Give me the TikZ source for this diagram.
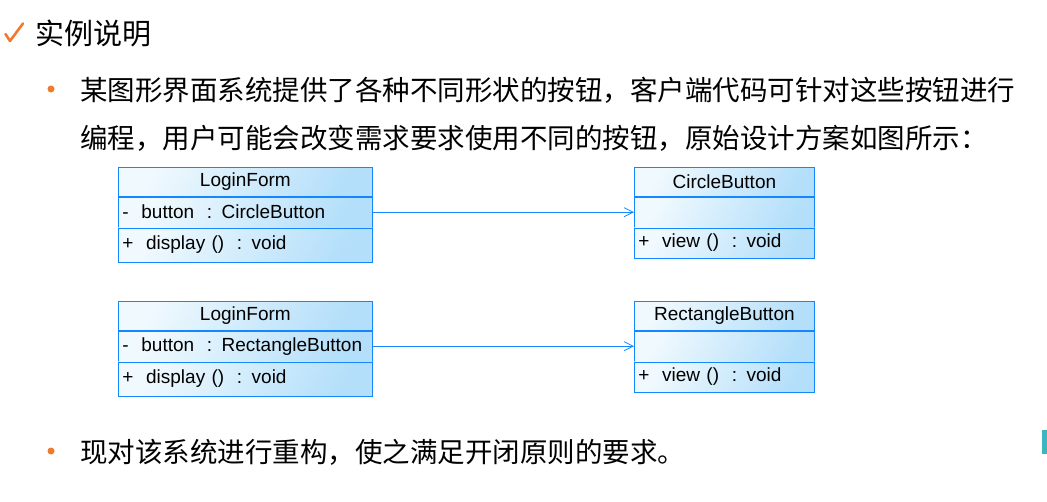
\documentclass[tikz,border=0pt]{standalone}
\usepackage{fontspec}
\setmainfont{Liberation Sans}
\newfontfamily\cjk{Noto Sans CJK SC}
\usetikzlibrary{positioning}
\usetikzlibrary{arrows.meta}
\definecolor{umlline}{RGB}{20,135,255}
\definecolor{umllight}{RGB}{240,249,254}
\definecolor{umldark}{RGB}{180,223,250}
\definecolor{dotorange}{RGB}{240,122,45}
\definecolor{barteal}{RGB}{62,182,192}

\tikzset{
  umlbox/.style={draw=umlline, line width=0.8pt, left color=umllight, right color=umldark,
    shading angle=60, inner xsep=4pt, inner ysep=0pt, text width=#1,
    font=\fontsize{19}{22}\selectfont},
  umlhead/.style={umlbox=#1, anchor=north west, align=center, minimum height=29pt},
  umlrow/.style={umlbox=#1, align=left, minimum height=30pt},
  assoc/.style={draw=umlline, line width=0.8pt, -{Straight Barb[length=9pt,width=9pt]}},
  cjktext/.style={anchor=base west, inner sep=0pt, font=\cjk\fontsize{27.5}{48}\selectfont},
  bulletdot/.style={fill=dotorange, draw=none}
}

\begin{document}
\begin{tikzpicture}[x=1pt,y=-1pt]
  \useasboundingbox (0,0) rectangle (1047,502);

  \draw[dotorange, line width=2.6pt, line cap=round, line join=round] (5.5,34) -- (10,41) -- (23,23.5);
  \node[cjktext, font=\cjk\fontsize{29}{34}\selectfont] (title) at (35,45) {实例说明};

  \fill[bulletdot] (51,89) circle (3.5);
  \node[cjktext] (introa) at (80,100.5) {某图形界面系统提供了各种不同形状的按钮，客户端代码可针对这些按钮进行};
  \node[cjktext] (introb) at (80,148.5) {编程，用户可能会改变需求要求使用不同的按钮，原始设计方案如图所示：};

  % circle button version
  \node[umlhead=246pt] (forma) at (118,167) {LoginForm};
  \node[umlrow=246pt, below=0pt of forma] (formaattr) {-~~button~~: CircleButton};
  \node[umlrow=246pt, below=0pt of formaattr, minimum height=34pt] (formaop) {+~~display ()~~: void};

  \node[umlhead=172pt] (circle) at (634,167) {CircleButton};
  \node[umlrow=172pt, below=0pt of circle] (circleattr) {};
  \node[umlrow=172pt, below=0pt of circleattr] (circleop) {+~~view ()~~: void};

  \draw[assoc] (formaattr.east) -- (formaattr.east -| circleattr.west);

  % rectangle button version
  \node[umlhead=246pt] (formb) at (118,301) {LoginForm};
  \node[umlrow=246pt, below=0pt of formb] (formbattr) {-~~button~~: RectangleButton};
  \node[umlrow=246pt, below=0pt of formbattr, minimum height=34pt] (formbop) {+~~display ()~~: void};

  \node[umlhead=172pt] (rect) at (634,301) {RectangleButton};
  \node[umlrow=172pt, below=0pt of rect] (rectattr) {};
  \node[umlrow=172pt, below=0pt of rectattr] (rectop) {+~~view ()~~: void};

  \draw[assoc] (formbattr.east) -- (formbattr.east -| rectattr.west);

  \fill[bulletdot] (51,451) circle (3.5);
  \node[cjktext] (task) at (80,462) {现对该系统进行重构，使之满足开闭原则的要求。};

  \fill[barteal] (1042,430) rectangle (1047,454);
\end{tikzpicture}
\end{document}
